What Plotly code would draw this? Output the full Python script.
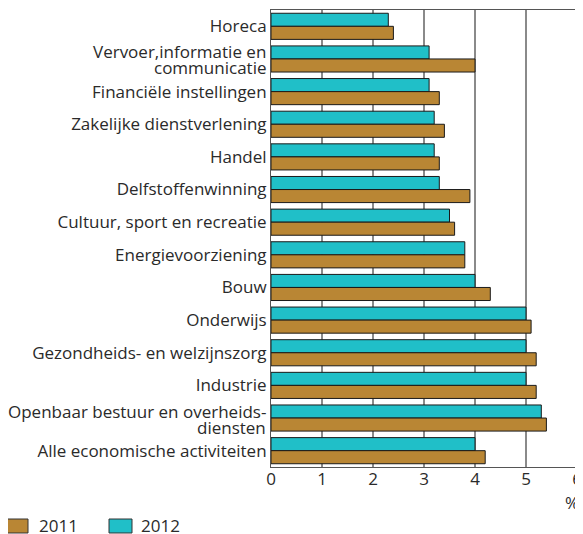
import plotly.graph_objects as go

categories = [
    "Horeca",
    "Vervoer,informatie en communicatie",
    "Financiële instellingen",
    "Zakelijke dienstverlening",
    "Handel",
    "Delfstoffenwinning",
    "Cultuur, sport en recreatie",
    "Energievoorziening",
    "Bouw",
    "Onderwijs",
    "Gezondheids- en welzijnszorg",
    "Industrie",
    "Openbaar bestuur en overheidsdiensten",
    "Alle economische activiteiten",
]
# label lines as printed on the chart (two-line labels split)
label_lines = {
    "Vervoer,informatie en communicatie": ["Vervoer,informatie en", "communicatie"],
    "Openbaar bestuur en overheidsdiensten": ["Openbaar bestuur en overheids-", "diensten"],
}
values_2011 = [2.4, 4.0, 3.3, 3.4, 3.3, 3.9, 3.6, 3.8, 4.3, 5.1, 5.2, 5.2, 5.4, 4.2]
values_2012 = [2.3, 3.1, 3.1, 3.2, 3.2, 3.3, 3.5, 3.8, 4.0, 5.0, 5.0, 5.0, 5.3, 4.0]
x_ticks = [0, 1, 2, 3, 4, 5, 6]
series_names = ["2011", "2012"]

c2011 = "#B98634"
c2012 = "#20BFC8"
FONT = "Open Sans, Noto Sans, sans-serif"
TXT = "#2a2a2a"
FS = 17

fig = go.Figure()
fig.add_trace(go.Bar(y=categories, x=values_2012, orientation="h", name=series_names[1],
                     marker=dict(color=c2012, line=dict(color="#1a1a1a", width=1))))
fig.add_trace(go.Bar(y=categories, x=values_2011, orientation="h", name=series_names[0],
                     marker=dict(color=c2011, line=dict(color="#1a1a1a", width=1))))

ticktext = ["" if c in label_lines else c for c in categories]

annotations = []
for c, lines in label_lines.items():
    for line, ys in zip(lines, [7, -9]):
        annotations.append(dict(text=line, x=0, xref="paper", y=c, yref="y", xanchor="right",
                                yanchor="middle", xshift=-3, yshift=ys, showarrow=False,
                                font=dict(size=FS, color=TXT)))

annotations.append(dict(text="%", x=0.9837, xref="paper", y=-0.078, yref="paper", showarrow=False,
                        xanchor="center", yanchor="middle", font=dict(size=FS, color=TXT)))

# manual legend (order 2011, 2012)
shapes = []
for name, col, bx0, bx1, tx in [(series_names[0], c2011, -0.8637, -0.7941, -0.7657),
                                (series_names[1], c2012, -0.5294, -0.4542, -0.4314)]:
    shapes.append(dict(type="rect", xref="paper", yref="paper", x0=bx0, x1=bx1,
                       y0=-0.1444, y1=-0.1138, fillcolor=col, line=dict(color="#333", width=1)))
    annotations.append(dict(text=name, x=tx, xref="paper", y=-0.1291, yref="paper", showarrow=False,
                            xanchor="left", yanchor="middle", font=dict(size=FS, color=TXT)))

fig.update_layout(
    width=575, height=526,
    margin=dict(l=263, r=6, t=2, b=67, autoexpand=False),
    plot_bgcolor="white", paper_bgcolor="white",
    font=dict(family=FONT, size=FS, color=TXT),
    barmode="group", bargap=0.2, bargroupgap=0,
    showlegend=False,
    xaxis=dict(range=[0, 6], tickvals=x_ticks, showgrid=True, gridcolor="#8a8a8a", gridwidth=1.5,
               showline=True, linecolor="#555", linewidth=1, mirror=True,
               ticks="", zeroline=False, automargin=False, ticklabelstandoff=-3,
               tickfont=dict(size=FS)),
    yaxis=dict(autorange="reversed", showline=True, linecolor="#555", linewidth=1, mirror=True,
               tickvals=categories, ticktext=ticktext,
               ticks="", ticklabelstandoff=0, automargin=False, tickfont=dict(size=FS)),
    shapes=shapes,
    annotations=annotations,
)

fig.write_html("out.html")
